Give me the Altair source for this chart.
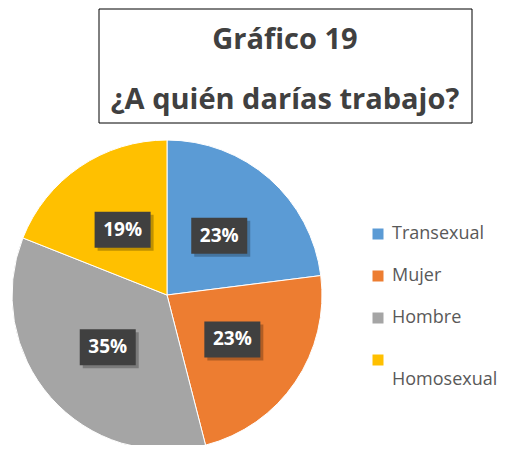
import altair as alt
import pandas as pd

categories = ["Transexual", "Mujer", "Hombre", "Homosexual"]
values = [23, 23, 35, 19]
labels = ["23%", "23%", "35%", "19%"]
colors = ["#5B9BD5", "#ED7D31", "#A5A5A5", "#FFC000"]
title_lines = ["Gráfico 19", "¿A quién darías trabajo?"]

df = pd.DataFrame({
    "cat": categories,
    "value": values,
    "label": labels,
    "order": list(range(len(categories))),
})

CX, CY, R, LR = 159, 287, 155, 79

base = alt.Chart(df)

arc = base.mark_arc(radius=R, stroke="white", strokeWidth=1).encode(
    theta=alt.Theta("value:Q", stack=True),
    color=alt.Color(
        "cat:N",
        scale=alt.Scale(domain=categories, range=colors),
        sort=categories,
        legend=alt.Legend(
            title=None,
            orient="none",
            legendX=361,
            legendY=217,
            padding=0,
            symbolType="square",
            symbolSize=121,
            symbolStrokeWidth=0,
            labelFont="Open Sans",
            labelFontSize=18,
            labelColor="#595959",
            labelOffset=5,
            rowPadding=24,
            labelExpr="datum.label == 'Homosexual' ? ['', 'Homosexual'] : datum.label",
        ),
    ),
    order=alt.Order("order:Q"),
    x=alt.value(CX),
    y=alt.value(CY),
)

pos = base.transform_window(
    cum="sum(value)", sort=[alt.SortField("order")], frame=[None, 0]
).transform_joinaggregate(
    total="sum(value)"
).transform_calculate(
    mid="(datum.cum - datum.value/2) / datum.total * 2 * PI",
).transform_calculate(
    bx=f"{CX} + {LR} * sin(datum.mid)",
    by=f"{CY} - {LR} * cos(datum.mid)",
).transform_calculate(
    x1="datum.bx - 28", x2="datum.bx + 28",
    y1="datum.by - 18", y2="datum.by + 18",
    sx1="datum.bx - 25", sx2="datum.bx + 31",
    sy1="datum.by - 15", sy2="datum.by + 21",
)

shadow = pos.mark_rect(color="#000000", opacity=0.25).encode(
    x=alt.X("sx1:Q", scale=None), x2="sx2:Q",
    y=alt.Y("sy1:Q", scale=None), y2="sy2:Q",
)
box = pos.mark_rect(color="#404040").encode(
    x=alt.X("x1:Q", scale=None), x2="x2:Q",
    y=alt.Y("y1:Q", scale=None), y2="y2:Q",
)
txt = pos.mark_text(
    font="Open Sans", fontSize=19, fontWeight="bold", color="white",
    align="center", baseline="middle",
).encode(
    x=alt.X("bx:Q", scale=None),
    y=alt.Y("by:Q", scale=None),
    text="label:N",
)

tdf = pd.DataFrame({"t": title_lines, "i": [0, 1]})
frame = alt.Chart(pd.DataFrame({"a": [0]})).mark_rect(
    fill="white", stroke="#000000", strokeWidth=1
).encode(
    x=alt.value(91), x2=alt.value(464), y=alt.value(1), y2=alt.value(115)
)
ttext = alt.Chart(tdf).transform_calculate(
    ty="32 + 60 * datum.i"
).mark_text(
    font="Open Sans", fontSize=29, fontWeight="bold", color="#404040",
    align="center", baseline="middle",
).encode(
    x=alt.value(277),
    y=alt.Y("ty:Q", scale=None),
    text="t:N",
)

chart = alt.layer(arc, shadow, box, txt, frame, ttext).properties(
    width=492, height=437, padding=0,
    autosize=alt.AutoSizeParams(type="none"),
).configure_view(stroke=None)

chart.save("out.html", embed_options={"renderer": "svg", "actions": False})
